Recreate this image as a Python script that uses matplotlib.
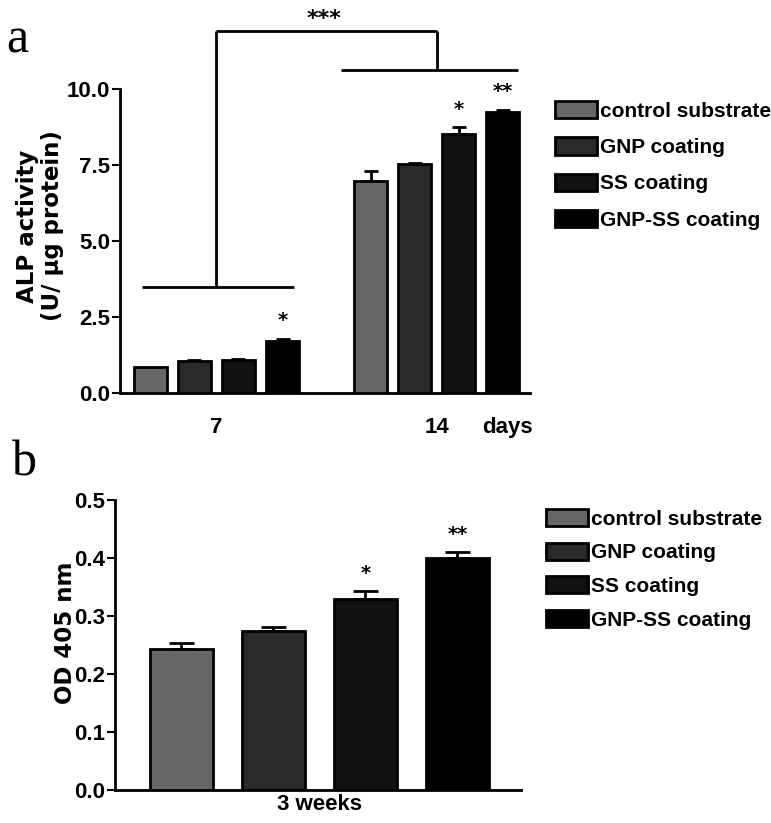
import matplotlib
matplotlib.use("Agg")
import matplotlib.pyplot as plt
from matplotlib import font_manager
import numpy as np

# ---------------- data ----------------
groups_a = ["control substrate", "GNP coating", "SS coating", "GNP-SS coating"]
days_labels = ["7", "14"]
alp_day7 = [0.87, 1.06, 1.08, 1.72]
alp_day7_err = [0.0, 0.03, 0.05, 0.05]
alp_day14 = [6.97, 7.53, 8.52, 9.24]
alp_day14_err = [0.33, 0.04, 0.22, 0.08]
stars_day7 = ["", "", "", "*"]
stars_day14 = ["", "", "*", "**"]

od_labels = ["3 weeks"]
od_vals = [0.243, 0.274, 0.329, 0.400]
od_err = [0.010, 0.007, 0.014, 0.011]
od_stars = ["", "", "*", "**"]

colors = ["#666666", "#2a2a2a", "#111111", "#000000"]

# ---------------- fonts ----------------
avail = {f.name for f in font_manager.fontManager.ttflist}
narrow = "Liberation Sans Narrow" if "Liberation Sans Narrow" in avail else "Liberation Sans"
plt.rcParams['font.family'] = [narrow, 'DejaVu Sans']

fig = plt.figure(figsize=(7.71, 8.23), dpi=100)
W, H = 771.0, 823.0

def style_axes(ax):
    for s in ["top", "right"]:
        ax.spines[s].set_visible(False)
    for s in ["left", "bottom"]:
        ax.spines[s].set_linewidth(2)
    ax.tick_params(axis='y', width=1.5, length=6, labelsize=16, pad=1)
    for lab in ax.get_yticklabels():
        lab.set_fontweight('bold')

# ---------------- panel a ----------------
axa = fig.add_axes([120/W, 1-393/H, 410/W, 304/H])
pos7 = np.arange(4)
pos14 = np.arange(4) + 5
bw = 0.74
for i in range(4):
    for p, v, e in [(pos7[i], alp_day7[i], alp_day7_err[i]), (pos14[i], alp_day14[i], alp_day14_err[i])]:
        axa.bar(p, v, width=bw, color=colors[i], edgecolor='black', linewidth=2, zorder=3)
        if e > 0:
            axa.errorbar(p, v, yerr=[[0], [e]], fmt='none', ecolor='black', elinewidth=2,
                         capsize=5, capthick=2, zorder=2)
for i in range(4):
    if stars_day7[i]:
        axa.text(pos7[i], alp_day7[i] + alp_day7_err[i] + 0.6, stars_day7[i], ha='center', va='center',
                 fontsize=14, fontweight='bold', family='DejaVu Sans')
    if stars_day14[i]:
        axa.text(pos14[i], alp_day14[i] + alp_day14_err[i] + 0.6, stars_day14[i], ha='center', va='center',
                 fontsize=14, fontweight='bold', family='DejaVu Sans')

axa.set_xlim(-0.69, 8.62)
axa.set_ylim(0, 10)
axa.set_yticks([0, 2.5, 5.0, 7.5, 10.0])
axa.set_yticklabels(["0.0", "2.5", "5.0", "7.5", "10.0"])
axa.set_xticks([1.5, 6.5])
axa.set_xticklabels(days_labels, fontsize=16, fontweight='bold')
axa.tick_params(axis='x', length=0, pad=17)
style_axes(axa)
axa.text(8.1, -1.12, "days", ha='center', va='center', fontsize=16, fontweight='bold')
fig.text(40/W, 1-226/H, "ALP activity\n(U/ µg protein)", rotation=90, ha='center', va='center',
         multialignment='center', fontsize=16.5, fontweight='bold', family=['DejaVu Sans'],
         linespacing=1.08)

# significance bracket
lk = dict(color='black', lw=2, clip_on=False, solid_capstyle='butt')
axa.plot([-0.2, 3.25], [3.5, 3.5], **lk)
axa.plot([1.5, 1.5], [3.5, 11.92], **lk)
axa.plot([1.5, 6.5], [11.92, 11.92], **lk)
axa.plot([6.5, 6.5], [11.92, 10.62], **lk)
axa.plot([4.33, 8.35], [10.62, 10.62], **lk)
axa.text(3.94, 12.3, "***", ha='center', va='center', fontsize=16, fontweight='bold', family='DejaVu Sans')

handles = [plt.Rectangle((0, 0), 1, 1, facecolor=c, edgecolor='black', linewidth=2) for c in colors]
fig.legend(handles, groups_a, loc='upper left', bbox_to_anchor=(555/W, 1-101/H), frameon=False,
           prop={'family': [narrow, 'DejaVu Sans'], 'weight': 'bold', 'size': 15},
           handlelength=2.0, handleheight=0.9, labelspacing=0.79, handletextpad=0.15,
           borderpad=0, borderaxespad=0)

# ---------------- panel b ----------------
axb = fig.add_axes([115/W, 1-790/H, 406/W, 290/H])
posb = np.arange(4)
for i in range(4):
    axb.bar(posb[i], od_vals[i], width=0.69, color=colors[i], edgecolor='black', linewidth=2, zorder=3)
    axb.errorbar(posb[i], od_vals[i], yerr=[[0], [od_err[i]]], fmt='none', ecolor='black', elinewidth=2,
                 capsize=9, capthick=2, zorder=2)
    if od_stars[i]:
        axb.text(posb[i], od_vals[i] + od_err[i] + 0.03, od_stars[i], ha='center', va='center',
                 fontsize=14, fontweight='bold', family='DejaVu Sans')
axb.set_xlim(-0.72, 3.69)
axb.set_ylim(0, 0.5)
axb.set_yticks([0, 0.1, 0.2, 0.3, 0.4, 0.5])
axb.set_yticklabels(["0.0", "0.1", "0.2", "0.3", "0.4", "0.5"])
axb.set_xticks([1.5])
axb.set_xticklabels(od_labels, fontsize=16, fontweight='bold')
axb.tick_params(axis='x', length=0, pad=3)
style_axes(axb)
fig.text(65/W, 1-633/H, "OD 405 nm", rotation=90, ha='center', va='center',
         fontsize=16.5, fontweight='bold', family=['DejaVu Sans'])

fig.legend(handles, groups_a, loc='upper left', bbox_to_anchor=(546/W, 1-509/H), frameon=False,
           prop={'family': [narrow, 'DejaVu Sans'], 'weight': 'bold', 'size': 15},
           handlelength=2.0, handleheight=0.9, labelspacing=0.66, handletextpad=0.15,
           borderpad=0, borderaxespad=0)

# panel letters
fig.text(6/W, 1-40/H, "a", fontsize=36, family=['Liberation Serif', 'DejaVu Serif'], va='center', ha='left')
fig.text(12/W, 1-463/H, "b", fontsize=36, family=['Liberation Serif', 'DejaVu Serif'], va='center', ha='left')

fig.savefig("out.png", dpi=100)
